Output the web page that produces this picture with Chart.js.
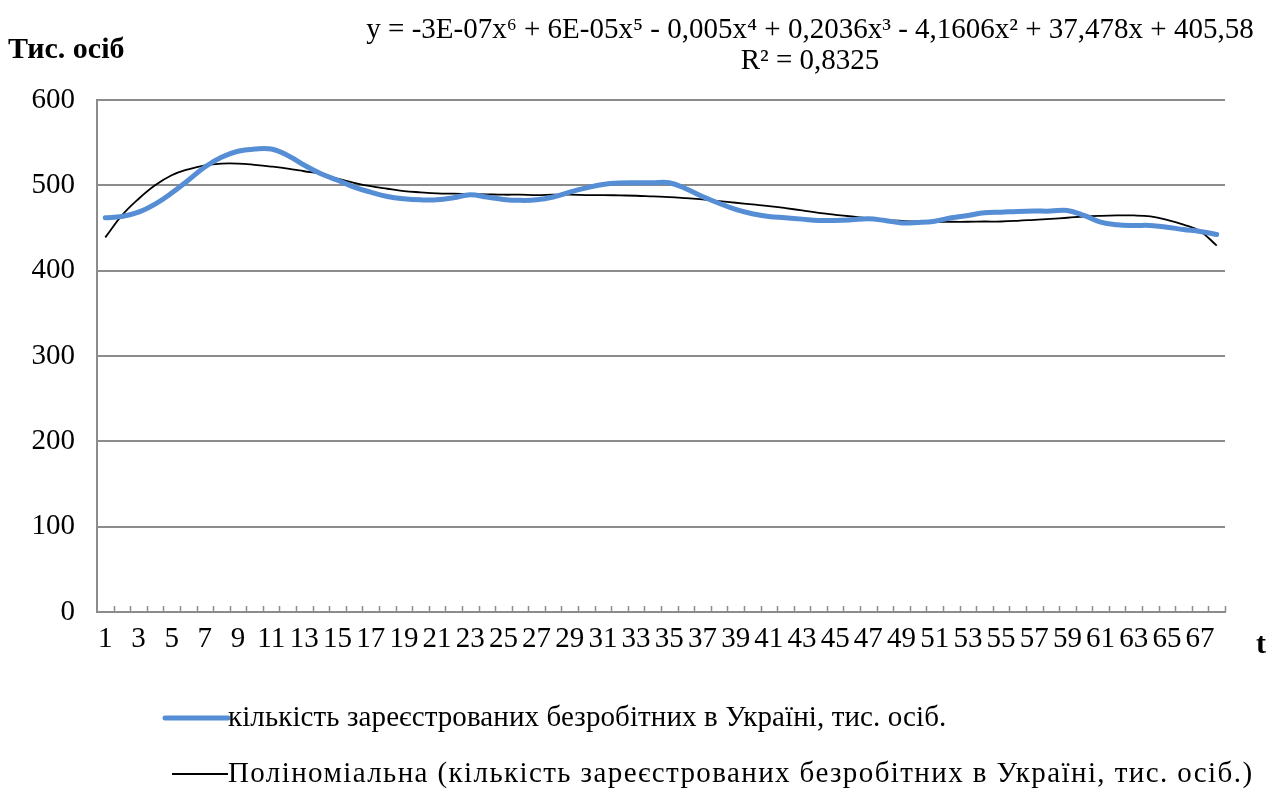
<!DOCTYPE html>
<html>
<head>
<meta charset="utf-8">
<script src="https://cdn.jsdelivr.net/npm/chart.js@4.4.1/dist/chart.umd.min.js"></script>
<style>
  html, body { margin: 0; padding: 0; background: #fff; }
  #wrap { width: 1278px; height: 791px; position: relative; }
</style>
</head>
<body>
<div id="wrap"><canvas id="chart" width="1278" height="791"></canvas></div>
<script>
// Періоди t = 1..68
const categories = [1, 2, 3, 4, 5, 6, 7, 8, 9, 10, 11, 12, 13, 14, 15, 16, 17, 18, 19, 20,
  21, 22, 23, 24, 25, 26, 27, 28, 29, 30, 31, 32, 33, 34, 35, 36, 37, 38, 39, 40,
  41, 42, 43, 44, 45, 46, 47, 48, 49, 50, 51, 52, 53, 54, 55, 56, 57, 58, 59, 60,
  61, 62, 63, 64, 65, 66, 67, 68];

// кількість зареєстрованих безробітних, тис. осіб
const unemployed = [462, 463.5, 468.5, 478, 491, 506, 521.5, 533, 540, 542.5,
  542.5, 535, 523.5, 513.5, 506, 498, 492, 487, 484.3, 483,
  483, 485.5, 489, 486.3, 483.5, 482.4, 483, 486.3, 492, 497,
  501, 502.7, 503, 503, 503, 496, 487, 479, 471.8, 466.7,
  463.5, 462, 460.4, 458.8, 458.8, 459.6, 460.8, 458.8, 456, 456.5,
  458, 462, 464.7, 467.9, 468.6, 469.4, 469.8, 469.8, 470.6, 464.7,
  456.8, 453.8, 453, 453, 451, 448.2, 446, 442.4];

// поліноміальний тренд
const trend = [439, 464.7, 484, 500, 511.8, 518.8, 523.5, 525.5, 525.5, 524,
  522, 519.6, 516.5, 513.5, 507.8, 503, 499, 496, 493.3, 491.8,
  490.6, 490.2, 489.8, 489.4, 489, 489, 488.6, 489, 489, 488.6,
  488.6, 488.2, 487.8, 487, 486.3, 485, 483.5, 481.5, 479.6, 477.6,
  475.7, 473.3, 470.6, 467.8, 465.5, 463.5, 461.6, 459.6, 458.4, 457.6,
  457.3, 457.3, 457.3, 457.6, 457.6, 458.4, 459.6, 460.8, 462, 463.5,
  464.3, 464.7, 464.7, 463.5, 459.6, 454, 446.3, 429.4];

const yTicks = [0, 100, 200, 300, 400, 500, 600];

const seriesLabels = [
  'кількість зареєстрованих безробітних в Україні, тис. осіб.',
  'Поліноміальна (кількість зареєстрованих безробітних в Україні, тис. осіб.)'
];
const yAxisTitle = 'Тис. осіб';
const xAxisTitle = 't';
const equationText = 'y = -3E-07x⁶ + 6E-05x⁵ - 0,005x⁴ + 0,2036x³ - 4,1606x² + 37,478x + 405,58';
const r2Text = 'R² = 0,8325';

const FONT = "'Liberation Serif', 'Times New Roman', serif";
const FS = 29;
const GRID = '#8c8c8c';
const BLUE = '#558ed5';

// підписи, легенда та внутрішні засічки осі X
const overlay = {
  id: 'overlay',
  afterDraw(chart) {
    const { ctx, scales: { x } } = chart;
    ctx.save();

    // засічки між категоріями, всередині області графіка
    ctx.strokeStyle = GRID;
    ctx.lineWidth = 1.5;
    const step = x.width / categories.length;
    for (let i = 1; i <= categories.length; i++) {
      const px = Math.round(x.left + i * step) + 0.5;
      ctx.beginPath();
      ctx.moveTo(px, x.top);
      ctx.lineTo(px, x.top - 6);
      ctx.stroke();
    }

    ctx.fillStyle = '#000';
    ctx.textBaseline = 'middle';

    ctx.font = `bold 30px ${FONT}`;
    ctx.textAlign = 'left';
    ctx.fillText(yAxisTitle, 8, 50);
    ctx.fillText(xAxisTitle, 1256, 645);

    ctx.font = `${FS}px ${FONT}`;
    ctx.textAlign = 'center';
    ctx.fillText(equationText, 810, 30);
    ctx.fillText(r2Text, 810, 61);

    // легенда
    const items = [
      { y: 718, x0: 165, color: BLUE, width: 5, ds: 0, spacing: '0.1px' },
      { y: 774, x0: 172, color: '#000', width: 2, ds: 1, spacing: '1.4px' }
    ];
    ctx.textAlign = 'left';
    items.forEach(it => {
      ctx.strokeStyle = it.color;
      ctx.lineWidth = it.width;
      ctx.lineCap = it.ds === 0 ? 'round' : 'butt';
      ctx.beginPath();
      ctx.moveTo(it.x0, it.y);
      ctx.lineTo(228, it.y);
      ctx.stroke();
      ctx.letterSpacing = it.spacing;
      ctx.fillText(chart.data.datasets[it.ds].label, 228, it.y);
    });

    ctx.restore();
  }
};

new Chart(document.getElementById('chart').getContext('2d'), {
  type: 'line',
  data: {
    labels: categories,
    datasets: [
      {
        label: seriesLabels[0],
        data: unemployed,
        borderColor: BLUE,
        borderWidth: 5,
        pointRadius: 0,
        tension: 0.4,
        borderCapStyle: 'round',
        fill: false
      },
      {
        label: seriesLabels[1],
        data: trend,
        borderColor: '#000',
        borderWidth: 1.8,
        pointRadius: 0,
        tension: 0.4,
        fill: false
      }
    ]
  },
  options: {
    responsive: false,
    animation: false,
    layout: { padding: { left: 0, right: 53, top: 100, bottom: 139 } },
    plugins: {
      legend: { display: false },
      tooltip: { enabled: false }
    },
    scales: {
      x: {
        type: 'category',
        offset: true,
        grid: { display: false, drawTicks: false },
        border: { display: true, color: GRID, width: 2 },
        ticks: {
          autoSkip: false,
          maxRotation: 0,
          padding: 10,
          color: '#000',
          font: { family: FONT, size: FS },
          callback: (v, i) => (i % 2 === 0 ? categories[i] : '')
        },
        afterFit: s => { s.height = 40; }
      },
      y: {
        min: 0,
        max: 600,
        afterBuildTicks: s => { s.ticks = yTicks.map(v => ({ value: v })); },
        grid: { color: GRID, lineWidth: 2, drawTicks: false },
        border: { display: true, color: GRID, width: 2 },
        ticks: {
          padding: 22,
          color: '#000',
          font: { family: FONT, size: FS }
        },
        afterFit: s => { s.width = 97; }
      }
    }
  },
  plugins: [overlay]
});
</script>
</body>
</html>
